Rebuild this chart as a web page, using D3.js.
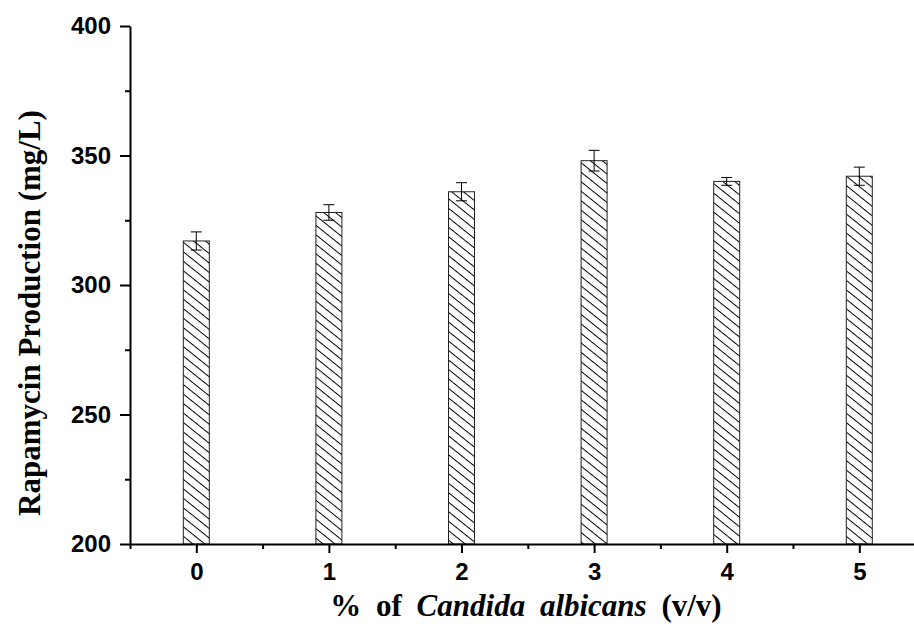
<!DOCTYPE html>
<html>
<head>
<meta charset="utf-8">
<script src="https://cdn.jsdelivr.net/npm/d3@7"></script>
<style>
  html, body { margin: 0; padding: 0; background: #fff; }
  svg { display: block; }
</style>
</head>
<body>
<svg id="chart" width="914" height="635"></svg>
<script>
// Inoculum level (% v/v) and rapamycin titre with standard deviation
const categories = [0, 1, 2, 3, 4, 5];
const production = [317, 328, 336, 348, 340, 342];
const errors = [3.5, 3, 3.5, 4, 1.5, 3.5];
const yTicks = [200, 250, 300, 350, 400];
const yMinorTicks = [225, 275, 325, 375];

const svg = d3.select("#chart");
const plotLeft = 130, plotTop = 26, plotBottom = 544;

const x = d3.scaleLinear().domain([-0.5, 5.5]).range([plotLeft, plotLeft + 6 * 132.6]);
const y = d3.scaleLinear().domain([200, 400]).range([plotBottom, plotTop]);

// Diagonal hatch fill
const defs = svg.append("defs");
const pat = defs.append("pattern")
  .attr("id", "hatch")
  .attr("patternUnits", "userSpaceOnUse")
  .attr("width", 10).attr("height", 7.4)
  .attr("patternTransform", "rotate(38.7)");
pat.append("rect").attr("width", 10).attr("height", 7.4).attr("fill", "#fff");
pat.append("line").attr("x1", 0).attr("x2", 10).attr("y1", 0.5).attr("y2", 0.5)
  .attr("stroke", "#000").attr("stroke-width", 1);

const barW = 26;
const data = categories.map((c, i) => ({ c, v: production[i], e: errors[i] }));

svg.append("g").selectAll("rect").data(data).join("rect")
  .attr("x", d => x(d.c) - barW / 2)
  .attr("y", d => y(d.v))
  .attr("width", barW)
  .attr("height", d => y(200) - y(d.v))
  .attr("fill", "url(#hatch)")
  .attr("stroke", "#222")
  .attr("stroke-width", 1);

// Error bars
const eb = svg.append("g").attr("stroke", "#000").attr("stroke-width", 1);
data.forEach(d => {
  const cx = x(d.c);
  eb.append("line").attr("x1", cx).attr("x2", cx).attr("y1", y(d.v + d.e)).attr("y2", y(d.v - d.e));
  eb.append("line").attr("x1", cx - 5.5).attr("x2", cx + 5.5).attr("y1", y(d.v + d.e)).attr("y2", y(d.v + d.e));
  eb.append("line").attr("x1", cx - 5.5).attr("x2", cx + 5.5).attr("y1", y(d.v - d.e)).attr("y2", y(d.v - d.e));
});

// Y axis
svg.append("g").attr("transform", `translate(${plotLeft},0)`)
  .call(d3.axisLeft(y).tickValues(yTicks).tickSize(10).tickSizeOuter(0).tickPadding(9));
svg.append("g").attr("transform", `translate(${plotLeft},0)`)
  .call(d3.axisLeft(y).tickValues(yMinorTicks).tickSize(5).tickSizeOuter(0).tickFormat(""))
  .select(".domain").remove();

// X axis
svg.append("g").attr("transform", `translate(0,${plotBottom})`)
  .call(d3.axisBottom(x).tickValues(categories).tickSize(9).tickSizeOuter(0).tickPadding(10).tickFormat(d3.format("d")));
svg.append("g").attr("transform", `translate(0,${plotBottom})`)
  .call(d3.axisBottom(x).tickValues(categories.map(c => c - 0.5).concat([5.5])).tickSize(5).tickSizeOuter(0).tickFormat(""))
  .select(".domain").remove();

svg.selectAll(".domain, .tick line").attr("stroke", "#000").attr("stroke-width", 2);
svg.selectAll(".tick text")
  .attr("fill", "#000")
  .style("font-family", "Arial, 'Liberation Sans', sans-serif")
  .style("font-weight", "bold")
  .style("font-size", "24px");

// Axis titles
svg.append("text")
  .attr("transform", `translate(40,313) rotate(-90)`)
  .attr("text-anchor", "middle")
  .style("font-family", "'Times New Roman', 'Liberation Serif', serif")
  .style("font-weight", "bold")
  .style("font-size", "31px")
  .text("Rapamycin Production (mg/L)");

const xt = svg.append("text")
  .attr("x", 526).attr("y", 616)
  .attr("text-anchor", "middle")
  .style("font-family", "'Times New Roman', 'Liberation Serif', serif")
  .style("font-weight", "bold")
  .style("font-size", "31px")
  .style("word-spacing", "7px");
xt.append("tspan").text("% of ");
xt.append("tspan").style("font-style", "italic").text("Candida albicans");
xt.append("tspan").text(" (v/v)");
</script>
</body>
</html>
